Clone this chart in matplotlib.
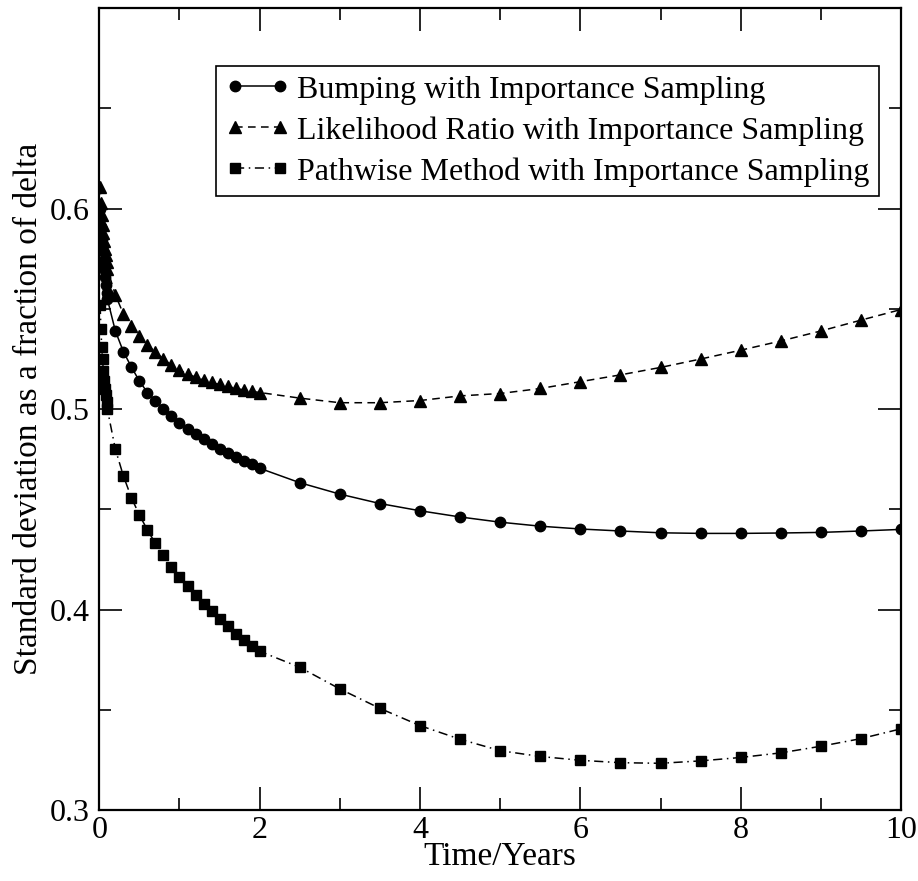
#!/usr/bin/env python3
"""
Standard deviation of the delta estimate (as a fraction of delta) versus
maturity, for three estimators combined with importance sampling.
"""

import matplotlib
matplotlib.use("Agg")
import matplotlib.pyplot as plt
from matplotlib.ticker import FixedLocator


# maturities in years (dense near zero, then 0.1 steps, then 0.5 steps)
time_years = [
    0.01, 0.02, 0.03, 0.04, 0.05, 0.06, 0.07, 0.08, 0.09, 0.10,
    0.2, 0.3, 0.4, 0.5, 0.6, 0.7, 0.8, 0.9, 1.0, 1.1,
    1.2, 1.3, 1.4, 1.5, 1.6, 1.7, 1.8, 1.9, 2.0,
    2.5, 3.0, 3.5, 4.0, 4.5, 5.0, 5.5, 6.0, 6.5, 7.0,
    7.5, 8.0, 8.5, 9.0, 9.5, 10.0,
]

bumping = [
    0.600, 0.591, 0.585, 0.579, 0.574, 0.570, 0.566, 0.562, 0.558, 0.555,
    0.539, 0.5287, 0.521, 0.514, 0.5083, 0.5042, 0.5003, 0.4967, 0.4933, 0.4903,
    0.4875, 0.485, 0.4825, 0.4803, 0.478, 0.4762, 0.4742, 0.4725, 0.4705,
    0.4633, 0.4576, 0.4529, 0.4493, 0.4462, 0.4436, 0.4416, 0.4402, 0.4392, 0.4383,
    0.4380, 0.4380, 0.4382, 0.4385, 0.4392, 0.4400,
]

likelihood = [
    0.611, 0.603, 0.597, 0.592, 0.588, 0.584, 0.580, 0.577, 0.5735, 0.570,
    0.557, 0.5475, 0.5417, 0.5367, 0.532, 0.5285, 0.525, 0.522, 0.5195, 0.5175,
    0.516, 0.5145, 0.5133, 0.5123, 0.5113, 0.5104, 0.5096, 0.5089, 0.5083,
    0.5055, 0.5032, 0.5032, 0.5043, 0.5066, 0.5078, 0.5103, 0.5137, 0.5171, 0.5208,
    0.5250, 0.5294, 0.5340, 0.5390, 0.5444, 0.5497,
]

pathwise = [
    0.552, 0.540, 0.531, 0.525, 0.519, 0.514, 0.510, 0.507, 0.5035, 0.500,
    0.480, 0.4667, 0.4558, 0.4472, 0.4397, 0.433, 0.427, 0.4213, 0.4163, 0.4117,
    0.4072, 0.403, 0.3992, 0.3953, 0.3917, 0.388, 0.3847, 0.3817, 0.3792,
    0.3712, 0.3604, 0.3507, 0.3421, 0.3353, 0.3296, 0.3267, 0.3248, 0.3236, 0.3233,
    0.3245, 0.3262, 0.3285, 0.3318, 0.3356, 0.3405,
]

labels = [
    "Bumping with Importance Sampling",
    "Likelihood Ratio with Importance Sampling",
    "Pathwise Method with Importance Sampling",
]

x_major = [0, 2, 4, 6, 8, 10]
x_minor = [1, 3, 5, 7, 9]
y_major = [0.3, 0.4, 0.5, 0.6]
y_minor = [0.35, 0.45, 0.55, 0.65]


def main() -> None:
    plt.rcParams["font.family"] = ["Liberation Serif", "DejaVu Serif"]
    plt.rcParams["font.size"] = 23

    fig = plt.figure(figsize=(9.18, 8.81), dpi=100)
    ax = fig.add_axes([0.1082, 0.0806, 0.8733, 0.9100])

    ax.plot(time_years, bumping, color="black", lw=1.1, ls="-",
            marker="o", markersize=7.5, label=labels[0])
    ax.plot(time_years, likelihood, color="black", lw=1.1, ls=(0, (5, 3.5)),
            marker="^", markersize=8.5, label=labels[1])
    ax.plot(time_years, pathwise, color="black", lw=1.1, ls=(0, (6, 3, 1, 3)),
            marker="s", markersize=7.5, label=labels[2])

    ax.set_xlim(0, 10)
    ax.set_ylim(0.3, 0.7)
    ax.xaxis.set_major_locator(FixedLocator(x_major))
    ax.xaxis.set_minor_locator(FixedLocator(x_minor))
    ax.yaxis.set_major_locator(FixedLocator(y_major))
    ax.yaxis.set_minor_locator(FixedLocator(y_minor))
    ax.set_xticklabels([str(v) for v in x_major])
    ax.set_yticklabels([f"{v:.1f}" for v in y_major])

    ax.tick_params(which="both", direction="in", top=True, right=True, width=1.2)
    ax.tick_params(which="major", length=16.5, labelsize=23)
    ax.tick_params(axis="x", which="major", pad=4)
    ax.tick_params(axis="y", which="major", pad=7)
    ax.tick_params(which="minor", length=8.3)
    for spine in ax.spines.values():
        spine.set_linewidth(1.6)

    ax.set_xlabel("Time/Years", fontsize=24, labelpad=-2)
    ax.set_ylabel("Standard deviation as a fraction of delta", fontsize=24, labelpad=4)

    leg = ax.legend(loc="upper right", bbox_to_anchor=(0.9726, 0.9284),
                    borderaxespad=0, fancybox=False, framealpha=1,
                    edgecolor="black", fontsize=23, numpoints=2,
                    handlelength=2.0, handletextpad=0.25, labelspacing=0.36,
                    borderpad=0.3, markerscale=1.0)
    leg.get_frame().set_linewidth(1.2)

    fig.savefig("out.png", dpi=100)


if __name__ == "__main__":
    main()
